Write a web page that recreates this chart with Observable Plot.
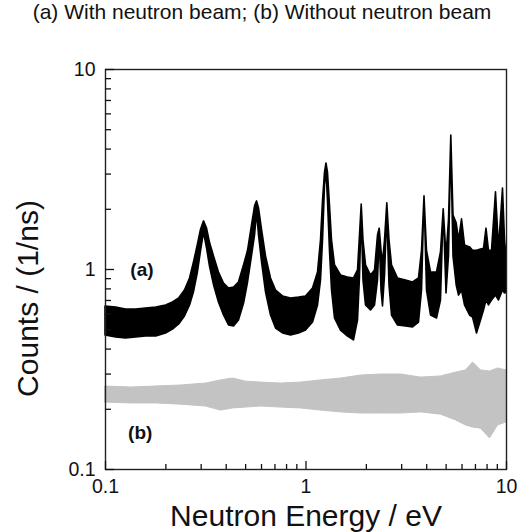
<!DOCTYPE html>
<html>
<head>
<meta charset="utf-8">
<script src="https://cdn.jsdelivr.net/npm/d3@7"></script>
<script src="https://cdn.jsdelivr.net/npm/@observablehq/plot@0.6"></script>
<style>
  html, body { margin: 0; padding: 0; background: #fff; }
  #wrap { width: 518px; height: 532px; overflow: hidden; font-family: "Liberation Sans", Arial, sans-serif; }
  #title { height: 40px; box-sizing: border-box; padding-top: 0; padding-left: 6px; text-align: center; font-size: 21px; line-height: 24px; color: #111; white-space: nowrap; }
</style>
</head>
<body>
<div id="wrap">
  <div id="title">(a) With neutron beam; (b) Without neutron beam</div>
  <div id="chart"></div>
</div>
<script>
// Series (a): with neutron beam — energy (eV), lower and upper edge of the noisy trace
const aEnergy = [0.1, 0.113, 0.1265, 0.142, 0.159, 0.179, 0.2004, 0.217, 0.233, 0.249, 0.264, 0.276, 0.289, 0.299, 0.310, 0.321, 0.332, 0.348, 0.368, 0.390, 0.413, 0.4375, 0.463, 0.491, 0.514, 0.538, 0.557, 0.570, 0.583, 0.604, 0.632, 0.669, 0.709, 0.768, 0.842, 0.923, 1.0, 1.084, 1.148, 1.188, 1.216, 1.244, 1.265, 1.287, 1.317, 1.348, 1.395, 1.495, 1.620, 1.735, 1.817, 1.859, 1.896, 1.935, 1.992, 2.110, 2.209, 2.286, 2.331, 2.380, 2.421, 2.478, 2.544, 2.609, 2.685, 2.877, 3.154, 3.418, 3.661, 3.790, 3.900, 4.013, 4.202, 4.502, 4.713, 4.862, 5.021, 5.167, 5.305, 5.441, 5.644, 5.797, 6.000, 6.209, 6.577, 6.808, 7.127, 7.462, 7.724, 7.947, 8.178, 8.466, 8.863, 9.175, 9.606, 9.829, 10];
const aLow = [0.468, 0.457, 0.452, 0.457, 0.462, 0.462, 0.479, 0.501, 0.531, 0.582, 0.661, 0.767, 0.966, 1.22, 1.53, 1.27, 1.035, 0.832, 0.684, 0.589, 0.525, 0.519, 0.556, 0.676, 0.861, 1.17, 1.48, 1.93, 1.48, 1.08, 0.767, 0.589, 0.507, 0.479, 0.468, 0.479, 0.495, 0.543, 0.661, 0.881, 1.40, 2.63, 3.13, 2.21, 1.24, 0.785, 0.569, 0.495, 0.462, 0.442, 0.556, 0.912, 1.93, 0.881, 0.661, 0.624, 0.661, 0.881, 1.46, 0.785, 0.653, 0.933, 1.93, 0.832, 0.589, 0.525, 0.519, 0.513, 0.543, 0.785, 2.32, 0.785, 0.589, 0.569, 0.700, 2.00, 0.759, 1.17, 4.27, 1.16, 0.832, 0.741, 0.785, 0.661, 0.589, 0.575, 0.479, 0.556, 0.624, 0.700, 0.661, 0.700, 0.741, 0.700, 0.785, 0.759, 0.767];
const aHigh = [0.653, 0.646, 0.631, 0.631, 0.638, 0.646, 0.661, 0.684, 0.716, 0.785, 0.902, 1.08, 1.33, 1.57, 1.74, 1.60, 1.36, 1.16, 0.966, 0.851, 0.804, 0.813, 0.861, 1.05, 1.24, 1.66, 2.07, 2.19, 2.02, 1.57, 1.16, 0.902, 0.785, 0.733, 0.716, 0.724, 0.733, 0.804, 0.966, 1.40, 2.21, 3.05, 3.39, 3.05, 2.09, 1.40, 1.05, 0.933, 0.912, 0.902, 0.989, 1.48, 2.11, 1.40, 1.05, 0.933, 0.989, 1.48, 1.60, 1.24, 1.08, 1.40, 2.14, 1.40, 1.05, 0.902, 0.881, 0.861, 0.902, 1.24, 2.32, 1.24, 0.966, 0.966, 1.22, 2.00, 1.17, 1.76, 4.68, 1.86, 1.70, 1.40, 1.78, 1.32, 1.29, 1.24, 1.24, 1.26, 1.27, 1.60, 1.24, 1.24, 2.43, 1.27, 2.54, 1.40, 1.17];

// Series (b): without neutron beam — energy (eV), lower and upper edge of the grey band
const bEnergy = [0.1, 0.134, 0.179, 0.238, 0.317, 0.377, 0.4325, 0.502, 0.597, 0.750, 0.944, 1.188, 1.495, 1.880, 2.366, 2.977, 3.746, 4.713, 5.60, 6.28, 6.81, 7.46, 8.27, 9.07, 10];
const bLow = [0.216, 0.214, 0.214, 0.211, 0.2065, 0.197, 0.202, 0.204, 0.2065, 0.204, 0.202, 0.197, 0.193, 0.1905, 0.1905, 0.1905, 0.193, 0.188, 0.176, 0.166, 0.162, 0.160, 0.143, 0.166, 0.172];
const bHigh = [0.260, 0.257, 0.260, 0.263, 0.269, 0.279, 0.285, 0.275, 0.272, 0.269, 0.272, 0.279, 0.285, 0.295, 0.2985, 0.2985, 0.288, 0.292, 0.305, 0.313, 0.343, 0.313, 0.309, 0.320, 0.313];

// Axes
const xMajor = [0.1, 1, 10];
const xMinor = [0.2, 0.3, 0.4, 0.5, 0.6, 0.7, 0.8, 0.9, 2, 3, 4, 5, 6, 7, 8, 9];
const yMajor = [0.1, 1, 10];
const yMinor = [0.2, 0.3, 0.4, 0.5, 0.6, 0.7, 0.8, 0.9, 2, 3, 4, 5, 6, 7, 8, 9];
const xTitle = "Neutron Energy / eV";
const yTitle = "Counts / (1/ns)";

// Curve labels
const labelText = ["(a)", "(b)"];
const labelEnergy = [0.152, 0.149];
const labelCounts = [1.0, 0.153];

const a = aEnergy.map((e, i) => ({e, lo: aLow[i], hi: aHigh[i]}));
const b = bEnergy.map((e, i) => ({e, lo: bLow[i], hi: bHigh[i]}));
const labels = labelText.map((t, i) => ({t, e: labelEnergy[i], v: labelCounts[i]}));

const W = 518, H = 492, ML = 105, MR = 12, MT = 29, MB = 63;
const fmt = d => String(d);
const X0 = 0.1, Y0 = 0.1; // lower-left corner of the domain, where the inward ticks start

const chart = Plot.plot({
  width: W,
  height: H,
  marginLeft: ML,
  marginRight: MR,
  marginTop: MT,
  marginBottom: MB,
  x: {type: "log", domain: [0.1, 10]},
  y: {type: "log", domain: [0.1, 10]},
  style: {fontFamily: "'Liberation Sans', Arial, sans-serif", fontSize: "19.5px", color: "#111", background: "white"},
  marks: [
    Plot.areaY(b, {x: "e", y1: "lo", y2: "hi", fill: "#c3c3c3", stroke: "#c3c3c3", strokeWidth: 1}),
    Plot.areaY(a, {x: "e", y1: "lo", y2: "hi", fill: "#000", stroke: "#000", strokeWidth: 1.6, strokeLinejoin: "round"}),
    Plot.frame({stroke: "#222", strokeWidth: 1.4}),
    // inward ticks: rules starting at the axis, extended into the plot by insets
    Plot.ruleX(xMinor, {x: d => d, y1: Y0, y2: Y0, insetTop: 0, insetBottom: 5, stroke: "#111", strokeWidth: 1.3}),
    Plot.ruleX(xMajor, {x: d => d, y1: Y0, y2: Y0, insetTop: 0, insetBottom: 8, stroke: "#111", strokeWidth: 1.3}),
    Plot.ruleY(yMinor, {y: d => d, x1: X0, x2: X0, insetLeft: 0, insetRight: -6, stroke: "#111", strokeWidth: 1.3}),
    Plot.ruleY(yMajor, {y: d => d, x1: X0, x2: X0, insetLeft: 0, insetRight: -9, stroke: "#111", strokeWidth: 1.3}),
    // tick labels
    Plot.axisX(xMajor, {anchor: "bottom", tickSize: 0, tickPadding: 10, tickFormat: fmt, label: null, fontSize: 19.5}),
    Plot.axisY(yMajor, {anchor: "left", tickSize: 0, tickPadding: 10, tickFormat: fmt, label: null, fontSize: 19.5}),
    Plot.text([xTitle], {frameAnchor: "bottom", textAnchor: "middle", lineAnchor: "middle", dy: 47, fontSize: 30, text: d => d}),
    Plot.text([yTitle], {frameAnchor: "left", textAnchor: "middle", lineAnchor: "middle", rotate: -90, dx: -77, dy: 29, fontSize: 30, text: d => d}),
    Plot.text(labels, {x: "e", y: "v", text: "t", fontWeight: "bold", fontSize: 19})
  ]
});
document.getElementById("chart").appendChild(chart);
</script>
</body>
</html>
